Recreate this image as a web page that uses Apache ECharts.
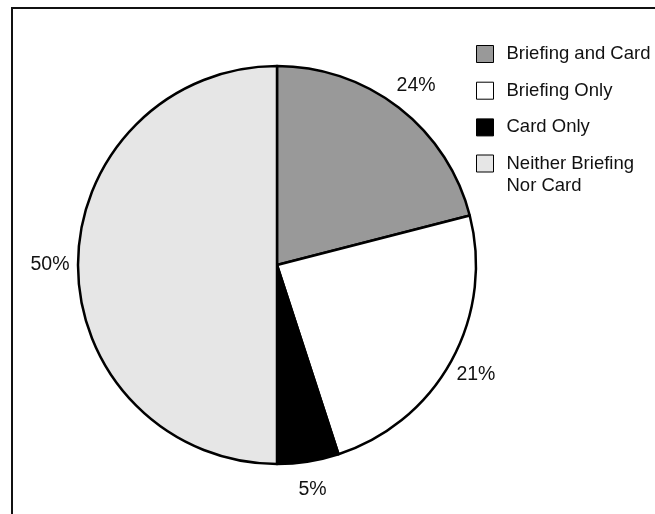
<!DOCTYPE html>
<html>
<head>
<meta charset="utf-8">
<script src="https://cdn.jsdelivr.net/npm/echarts@6/dist/echarts.min.js"></script>
<style>
  html, body { margin: 0; padding: 0; background: #fff; }
  #chart { width: 655px; height: 514px; }
</style>
</head>
<body>
<div id="chart"></div>
<script>
// Categories (legend order = slice order, clockwise from 12 o'clock)
const categories = ['Briefing and Card', 'Briefing Only', 'Card Only', 'Neither Briefing Nor Card'];
// Slice sizes as drawn in the picture (percent of the circle)
const sliceValues = [21, 24, 5, 50];
// Percentage labels printed next to each slice
const sliceLabels = ['24%', '21%', '5%', '50%'];
const sliceColors = ['#999999', '#ffffff', '#000000', '#e6e6e6'];

const FONT = "'Liberation Sans', Arial, Helvetica, sans-serif";

const chart = echarts.init(document.getElementById('chart'), null, { renderer: 'canvas' });

const pieData = categories.map((name, i) => ({
  name: name,
  value: sliceValues[i],
  itemStyle: { color: sliceColors[i] }
}));

const labelData = categories.map((name, i) => ({
  name: name,
  value: sliceValues[i]
}));

const legendText = {
  fontFamily: FONT,
  fontSize: 18.5,
  color: '#111',
  lineHeight: 22,
  padding: [0, 0, 0, 8]
};

chart.setOption({
  backgroundColor: '#ffffff',
  animation: false,
  graphic: [{
    type: 'rect',
    shape: { x: 12, y: 8, width: 1000, height: 1000 },
    style: { fill: 'none', stroke: '#111', lineWidth: 2 },
    silent: true,
    z: 100
  }],
  legend: [{
    orient: 'vertical',
    left: 476,
    top: 43,
    padding: 0,
    itemWidth: 17,
    itemHeight: 17,
    itemGap: 14.7,
    icon: 'rect',
    selectedMode: false,
    itemStyle: { borderColor: '#000', borderWidth: 1 },
    textStyle: legendText,
    data: categories.slice(0, 3)
  }, {
    orient: 'vertical',
    left: 476,
    top: 130.5,
    padding: 0,
    itemWidth: 17,
    itemHeight: 17,
    icon: 'rect',
    selectedMode: false,
    itemStyle: { borderColor: '#000', borderWidth: 1 },
    textStyle: legendText,
    formatter: function (n) { return '\n' + n.replace('Briefing Nor', 'Briefing\nNor'); },
    data: categories.slice(3)
  }],
  series: [{
    type: 'pie',
    center: [277, 265],
    radius: [0, 199],
    startAngle: 90,
    clockwise: true,
    label: { show: false },
    labelLine: { show: false },
    emphasis: { disabled: true },
    silent: true,
    itemStyle: { borderColor: '#000', borderWidth: 2.5 },
    data: pieData,
    z: 2
  }, {
    type: 'pie',
    center: [277, 265],
    radius: [199, 249],
    startAngle: 90,
    clockwise: true,
    silent: true,
    emphasis: { disabled: true },
    itemStyle: { color: 'rgba(0,0,0,0)', borderWidth: 0 },
    label: {
      show: true,
      position: 'inside',
      color: '#111',
      fontFamily: FONT,
      fontSize: 19.5,
      formatter: function (p) { return sliceLabels[p.dataIndex]; }
    },
    labelLine: { show: false },
    data: labelData,
    z: 1
  }]
});
</script>
</body>
</html>
